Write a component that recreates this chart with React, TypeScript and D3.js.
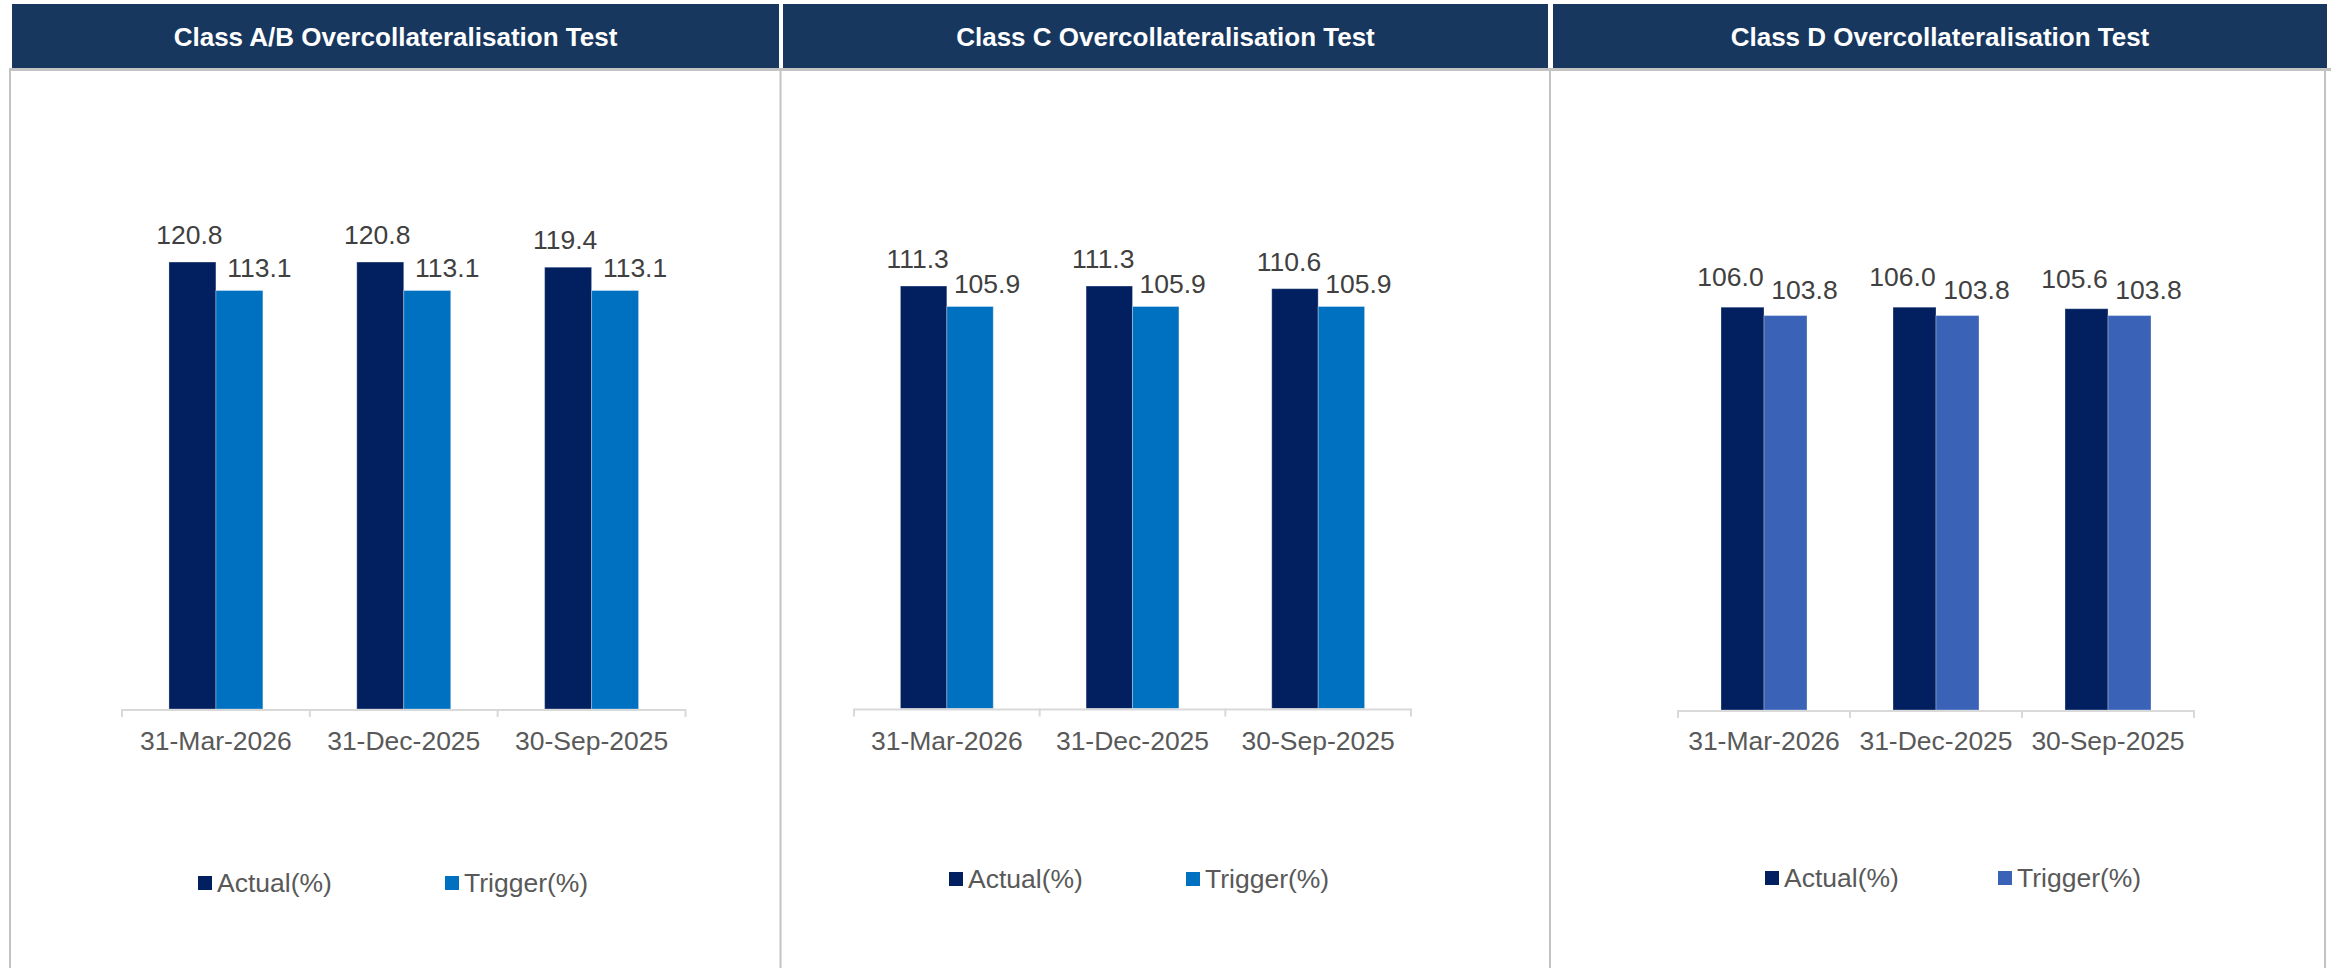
import React from "react";
import * as d3 from "d3";

// ---------- data ----------
const categories = ["31-Mar-2026", "31-Dec-2025", "30-Sep-2025"];
const seriesNames = ["Actual(%)", "Trigger(%)"];
const titles = [
  "Class A/B Overcollateralisation Test",
  "Class C Overcollateralisation Test",
  "Class D Overcollateralisation Test",
];
const actualAB = [120.8, 120.8, 119.4];
const triggerAB = [113.1, 113.1, 113.1];
const actualC = [111.3, 111.3, 110.6];
const triggerC = [105.9, 105.9, 105.9];
const actualD = [106.0, 106.0, 105.6];
const triggerD = [103.8, 103.8, 103.8];

// ---------- layout / style ----------
const W = 2331;
const H = 968;
const FONT = "'Liberation Sans', Arial, Helvetica, sans-serif";
const NAVY_HEADER = "#18375f";
const ACTUAL_COLOR = "#022060";
const BORDER = "#c3c3c3";
const TEXT_SIZE = 26.5;

type PanelCfg = {
  title: string;
  actual: number[];
  trigger: number[];
  triggerColor: string;
  hx0: number;
  hx1: number;
  ax0: number;
  ax1: number;
  baseline: number;
  yMax: number;
  plotTop: number;
  legendX: [number, number];
  legendY: number;
  labelDx: [number, number];
  labelGap: [number, number];
};

const panels: PanelCfg[] = [
  {
    title: titles[0],
    actual: actualAB,
    trigger: triggerAB,
    triggerColor: "#0070c0",
    hx0: 12,
    hx1: 779,
    ax0: 122,
    ax1: 685.5,
    baseline: 709,
    yMax: 140,
    plotTop: 191,
    legendX: [198, 445],
    legendY: 883,
    labelDx: [-3, 20],
    labelGap: [18, 14],
  },
  {
    title: titles[1],
    actual: actualC,
    trigger: triggerC,
    triggerColor: "#0070c0",
    hx0: 783,
    hx1: 1548,
    ax0: 854,
    ax1: 1411,
    baseline: 708.5,
    yMax: 120,
    plotTop: 253,
    legendX: [949, 1186],
    legendY: 879,
    labelDx: [-6, 17],
    labelGap: [18, 14],
  },
  {
    title: titles[2],
    actual: actualD,
    trigger: triggerD,
    triggerColor: "#3a63b8",
    hx0: 1553,
    hx1: 2327,
    ax0: 1678,
    ax1: 2194,
    baseline: 710,
    yMax: 110,
    plotTop: 292,
    legendX: [1765, 1998],
    legendY: 878,
    labelDx: [-12, 19],
    labelGap: [21, 17],
  },
];

function Panel({ p }: { p: PanelCfg }) {
  const x = d3
    .scaleBand<string>()
    .domain(categories)
    .range([p.ax0, p.ax1])
    .paddingInner(0.5)
    .paddingOuter(0.25);
  const xs = d3
    .scaleBand<string>()
    .domain(seriesNames)
    .range([0, x.bandwidth()]);
  const y = d3.scaleLinear().domain([0, p.yMax]).range([p.baseline, p.plotTop]);
  const colors = [ACTUAL_COLOR, p.triggerColor];
  const values = [p.actual, p.trigger];
  const step = x.step();
  const boundaries = d3.range(categories.length + 1).map((i) => p.ax0 + i * step);

  return (
    <g>
      {/* header */}
      <rect x={p.hx0} y={4} width={p.hx1 - p.hx0} height={64} fill={NAVY_HEADER} />
      <text
        x={(p.hx0 + p.hx1) / 2}
        y={37}
        textAnchor="middle"
        dominantBaseline="central"
        fill="#ffffff"
        fontFamily={FONT}
        fontWeight="bold"
        fontSize={26}
      >
        {p.title}
      </text>

      {/* bars */}
      {seriesNames.map((s, si) =>
        categories.map((c, ci) => {
          const v = values[si][ci];
          const bx = (x(c) as number) + (xs(s) as number);
          return (
            <rect
              key={s + c}
              x={bx}
              y={y(v)}
              width={xs.bandwidth()}
              height={p.baseline - y(v)}
              fill={colors[si]}
              stroke="rgba(255,255,255,0.3)"
              strokeWidth={1}
            />
          );
        })
      )}

      {/* data labels */}
      {seriesNames.map((s, si) =>
        categories.map((c, ci) => {
          const v = values[si][ci];
          const cx = (x(c) as number) + (xs(s) as number) + xs.bandwidth() / 2;
          return (
            <text
              key={"l" + s + c}
              x={cx + p.labelDx[si]}
              y={y(v) - p.labelGap[si]}
              textAnchor="middle"
              fill="#404040"
              fontFamily={FONT}
              fontSize={TEXT_SIZE}
            >
              {d3.format(".1f")(v)}
            </text>
          );
        })
      )}

      {/* axis */}
      <line
        x1={p.ax0}
        x2={p.ax1}
        y1={p.baseline + 1}
        y2={p.baseline + 1}
        stroke="#d9d9d9"
        strokeWidth={2}
      />
      {boundaries.map((bx, i) => (
        <line
          key={"t" + i}
          x1={bx}
          x2={bx}
          y1={p.baseline}
          y2={p.baseline + 8}
          stroke="#d9d9d9"
          strokeWidth={2}
        />
      ))}
      {categories.map((c) => (
        <text
          key={"c" + c}
          x={(x(c) as number) + x.bandwidth() / 2}
          y={750}
          textAnchor="middle"
          fill="#595959"
          fontFamily={FONT}
          fontSize={TEXT_SIZE}
        >
          {c}
        </text>
      ))}

      {/* legend */}
      {seriesNames.map((s, si) => (
        <g key={"lg" + s}>
          <rect
            x={p.legendX[si]}
            y={p.legendY - 7}
            width={14}
            height={14}
            fill={colors[si]}
          />
          <text
            x={p.legendX[si] + 19}
            y={p.legendY}
            dominantBaseline="central"
            fill="#595959"
            fontFamily={FONT}
            fontSize={TEXT_SIZE}
          >
            {s}
          </text>
        </g>
      ))}
    </g>
  );
}

export default function App() {
  const dividers = [10, 780.5, 1550, 2325];
  return (
    <svg
      width={W}
      height={H}
      viewBox={`0 0 ${W} ${H}`}
      style={{ position: "absolute", left: 0, top: 0, background: "#ffffff" }}
    >
      <rect x={0} y={0} width={W} height={H} fill="#ffffff" />
      {/* gray line under headers */}
      <rect x={10} y={68} width={W - 10} height={3} fill={BORDER} />
      {dividers.map((dx, i) => (
        <line key={"d" + i} x1={dx} x2={dx} y1={68} y2={H} stroke={BORDER} strokeWidth={2} />
      ))}
      {panels.map((p, i) => (
        <Panel key={i} p={p} />
      ))}
    </svg>
  );
}
